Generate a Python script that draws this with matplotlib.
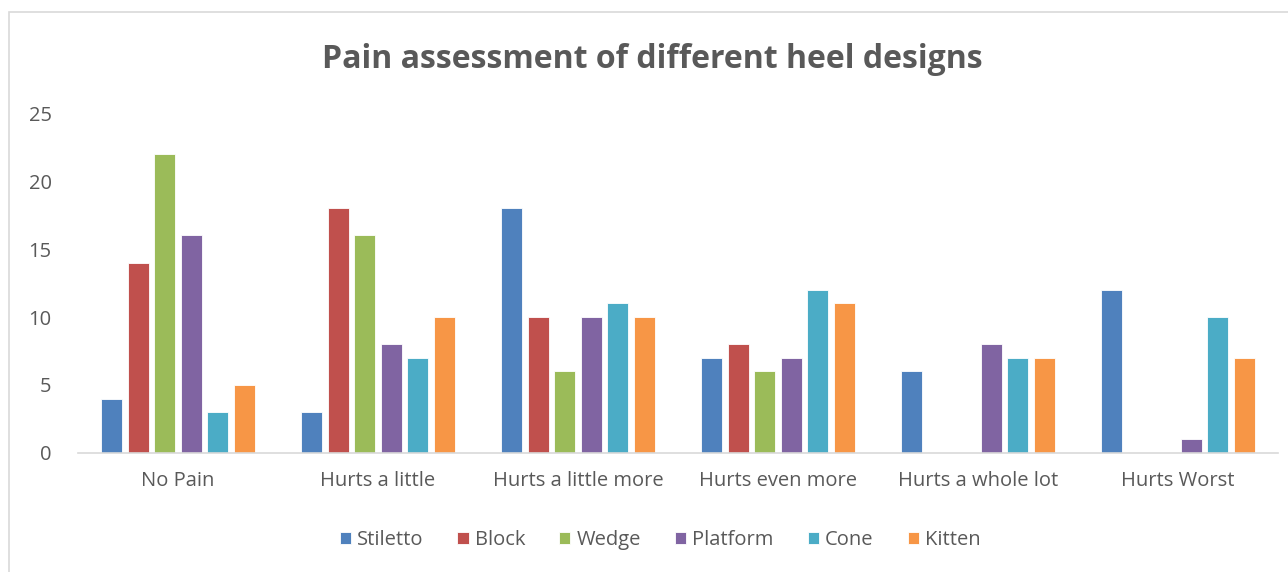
import numpy as np
import matplotlib.pyplot as plt
from matplotlib.patches import Rectangle

plt.rcParams['font.family'] = ['Open Sans', 'DejaVu Sans']

categories = ['No Pain', 'Hurts a little', 'Hurts a little more', 'Hurts even more',
              'Hurts a whole lot', 'Hurts Worst']
series_names = ['Stiletto', 'Block', 'Wedge', 'Platform', 'Cone', 'Kitten']
stiletto = [4, 3, 18, 7, 6, 12]
block = [14, 18, 10, 8, 0, 0]
wedge = [22, 16, 6, 6, 0, 0]
platform = [16, 8, 10, 7, 8, 1]
cone = [3, 7, 11, 12, 7, 10]
kitten = [5, 10, 10, 11, 7, 7]
colors = ['#4F81BD', '#C0504D', '#9BBB59', '#8064A2', '#4BACC6', '#F79646']

W, H = 1288, 572
fig = plt.figure(figsize=(W / 100, H / 100), dpi=100)
ax = fig.add_axes([78 / W, 1 - 453 / H, 1200 / W, 340 / H])

# chart border (cut at right/bottom like the screenshot)
fig.patches.append(Rectangle((9 / W, -0.1), 1.2, 1 - 12 / H + 0.1, transform=fig.transFigure,
                             fill=False, edgecolor='#d9d9d9', linewidth=1.2))

x = np.arange(len(categories))
pitch = 0.133
width = 0.105
all_series = [stiletto, block, wedge, platform, cone, kitten]
for i, (name, vals) in enumerate(zip(series_names, all_series)):
    ax.bar(x + (i - 2.5) * pitch, vals, width, color=colors[i], label=name,
           edgecolor='white', linewidth=0.6)

ax.set_xlim(-0.5, len(categories) - 0.5)
ax.set_ylim(0, 25)
ax.set_yticks(range(0, 26, 5))
ax.set_xticks(x)
ax.set_xticklabels(categories)
for s in ['top', 'right', 'left']:
    ax.spines[s].set_visible(False)
ax.spines['bottom'].set_color('#d9d9d9')
ax.spines['bottom'].set_linewidth(1.2)
ax.tick_params(axis='both', length=0, labelsize=14.5, colors='#595959')
ax.tick_params(axis='x', pad=13)
ax.tick_params(axis='y', pad=19)

fig.text(652 / W, 1 - 59 / H, 'Pain assessment of different heel designs', ha='center',
         va='center', fontsize=23, fontweight='bold', color='#595959')

leg = fig.legend(loc='center', bbox_to_anchor=(660 / W, 1 - 540 / H), ncol=6, frameon=False,
                 fontsize=14.5, handlelength=0.55, handleheight=0.55, handletextpad=0.3,
                 columnspacing=1.7)
for t in leg.get_texts():
    t.set_color('#595959')

fig.savefig('out.png', dpi=100)
